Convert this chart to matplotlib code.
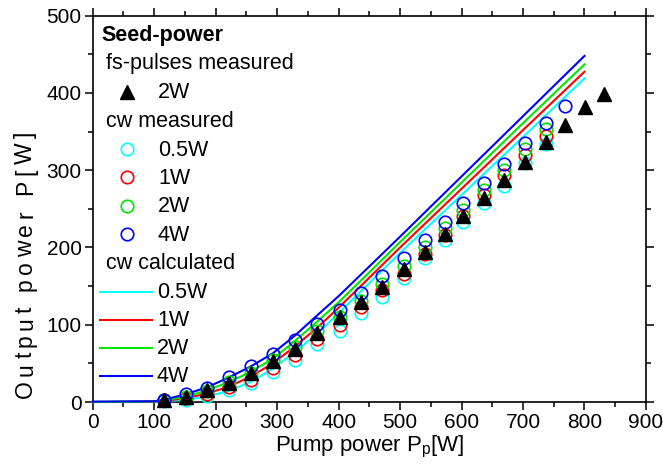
import matplotlib
matplotlib.use('Agg')
import matplotlib.pyplot as plt
from matplotlib import font_manager, ft2font
from matplotlib.ticker import MultipleLocator

plt.rcParams['font.family'] = ['Liberation Sans', 'DejaVu Sans']
plt.rcParams['mathtext.default'] = 'regular'

# fs-pulses measured, 2W seed
fs_x = [116, 151, 186, 222, 257, 293, 329, 365, 402, 436, 471, 506, 541, 573,
        603, 636, 669, 704, 737, 769, 801, 831]
fs_y = [2.6, 7, 15, 24, 37, 53, 69, 89, 110, 130, 149, 172, 194, 218,
        241, 264, 287, 311, 337, 358, 382, 399]

# cw measured
cw_x = [116, 151, 186, 222, 257, 293, 329, 365, 402, 436, 471, 506, 541, 573,
        603, 636, 669, 704, 737]
cw_x_4w = cw_x + [769]
cw_05 = [1, 3, 8, 15, 25, 39, 55, 75, 92, 115, 136, 160, 186, 210,
         233, 257, 279, 310, 334]
cw_1 = [2, 5, 11, 19, 29, 44, 61, 82, 100, 123, 145, 166, 192, 216,
        241, 268, 294, 320, 344]
cw_2 = [2, 7, 14, 26, 38, 54, 71, 92, 110, 131, 153, 176, 201, 225,
        249, 274, 300, 327, 353]
cw_4 = [3, 10, 18, 33, 46, 62, 80, 101, 119, 141, 163, 186, 210, 233,
        257, 284, 308, 335, 361, 383]

# cw calculated
calc_x = [0, 100, 116, 151, 186, 222, 257, 293, 329, 365, 400, 500, 600, 700, 800]
calc_05 = [0, 0.3, 1, 3, 7, 14.6, 26, 43, 65, 88, 115, 193, 268, 343, 419]
calc_1 = [0, 0.5, 1.5, 5, 11, 20, 33, 50, 72, 96, 122, 200, 276, 352, 427.5]
calc_2 = [0, 0.7, 2, 7, 15, 26, 39, 56, 79, 104, 129, 207, 284, 361, 437]
calc_4 = [0.5, 1, 3, 10, 19, 32, 46, 63, 86, 112, 137, 214, 292, 370, 448]

seed_labels = ['0.5W', '1W', '2W', '4W']
colors = ['#00ffff', '#ff0000', '#00e600', '#0000ff']
ylabel_text = 'Output power P[W]'

W, H = 663, 468
fig = plt.figure(figsize=(W / 100, H / 100), dpi=100)
ax = fig.add_axes([0.1398, 0.141, 0.8345, 0.8254])

for yv, c in zip([calc_05, calc_1, calc_2, calc_4], colors):
    ax.plot(calc_x, yv, color=c, lw=1.5, zorder=3, clip_on=False)

cw_sets = [(cw_x, cw_05), (cw_x, cw_1), (cw_x, cw_2), (cw_x_4w, cw_4)]
for (xv, yv), c in zip(cw_sets, colors):
    ax.plot(xv, yv, 'o', ms=9, mfc='none', mec=c, mew=1.2, zorder=4,
            clip_on=False)

ax.plot(fs_x, fs_y, '^', ms=10, color='black', zorder=5, clip_on=False)

ax.set_xlim(0, 900)
ax.set_ylim(0, 500)
ax.xaxis.set_major_locator(MultipleLocator(100))
ax.xaxis.set_minor_locator(MultipleLocator(50))
ax.yaxis.set_major_locator(MultipleLocator(100))
ax.yaxis.set_minor_locator(MultipleLocator(50))
ax.tick_params(which='both', direction='out', top=True, right=True,
               width=1.1, labelsize=15, pad=2)
ax.tick_params(which='major', length=6)
ax.tick_params(which='minor', length=3.5)
for s in ax.spines.values():
    s.set_linewidth(1.2)

ax.set_xlabel('Pump power P$_p$[W]', fontsize=16, labelpad=1)

# y label: the original rotated text is letter-spaced, so set it glyph by glyph
ylab_fs = 16.5
prop = font_manager.FontProperties(family='Liberation Sans', size=ylab_fs)
ft = ft2font.FT2Font(font_manager.findfont(prop))
ft.set_size(ylab_fs, 100)
adv = [ft.load_char(ord(ch)).linearHoriAdvance / 65536 for ch in ylabel_text]
span = 266  # pixels, bottom of "O" to end of "]"
gap = (span - sum(adv)) / (len(ylabel_text) - 1)
ypos = H - 398
for ch, a in zip(ylabel_text, adv):
    fig.text(32 / W, ypos / H, ch, fontsize=ylab_fs, rotation=90,
             rotation_mode='anchor', ha='left', va='baseline')
    ypos += a + gap


# legend drawn like the original (headers indented less than entries)
def px(x, y):
    return (x - 92.7) / 553.3, (402 - y) / 386.3


tr = ax.transAxes
leg_fs = 15.5
ax.text(*px(101, 35), 'Seed-power', transform=tr, fontsize=leg_fs,
        fontweight='bold', va='center', ha='left')
ax.text(*px(106, 63), 'fs-pulses measured', transform=tr, fontsize=leg_fs,
        va='center', ha='left')
ax.plot(*px(127, 91.5), '^', ms=10, color='black', transform=tr,
        clip_on=False)
ax.text(*px(158, 92.5), '2W', transform=tr, fontsize=leg_fs, va='center')
ax.text(*px(106, 121), 'cw measured', transform=tr, fontsize=leg_fs,
        va='center')
ax.text(*px(106, 263), 'cw calculated', transform=tr, fontsize=leg_fs,
        va='center')
for i, (lab, c) in enumerate(zip(seed_labels, colors)):
    yr = 149 + 28.4 * i
    ax.plot(*px(127.5, yr), 'o', ms=9, mfc='none', mec=c, mew=1.2,
            transform=tr, clip_on=False)
    ax.text(*px(158, yr + 1), lab, transform=tr, fontsize=leg_fs, va='center')
    yl = 291.5 + 28 * i
    x0, y0 = px(100, yl)
    x1, _ = px(152, yl)
    ax.plot([x0, x1], [y0, y0], color=c, lw=1.5, transform=tr, clip_on=False)
    ax.text(*px(157, yl + 1), lab, transform=tr, fontsize=leg_fs, va='center')

fig.savefig('out.png', dpi=100)
